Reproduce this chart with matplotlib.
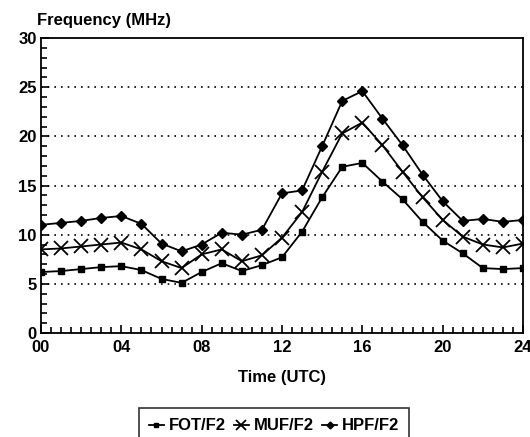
import matplotlib
matplotlib.use("Agg")
import matplotlib.pyplot as plt
from matplotlib.ticker import MultipleLocator

plt.rcParams['font.family'] = ['Liberation Sans', 'DejaVu Sans']

hours = list(range(25))
fot = [6.2, 6.3, 6.5, 6.7, 6.8, 6.4, 5.5, 5.1, 6.2, 7.1, 6.3, 6.9,
       7.7, 10.3, 13.8, 16.9, 17.3, 15.4, 13.6, 11.3, 9.4, 8.1, 6.6, 6.5, 6.6]
muf = [8.5, 8.6, 8.8, 9.0, 9.2, 8.5, 7.3, 6.6, 8.0, 8.5, 7.3, 7.9,
       9.7, 12.3, 16.4, 20.3, 21.4, 19.1, 16.4, 13.8, 11.5, 9.8, 9.0, 8.7, 9.1]
hpf = [11.0, 11.2, 11.4, 11.7, 11.9, 11.1, 9.1, 8.3, 9.0, 10.2, 10.0, 10.5,
       14.2, 14.5, 19.0, 23.6, 24.6, 21.8, 19.1, 16.1, 13.4, 11.4, 11.6, 11.3, 11.5]
xtick_vals = [0, 4, 8, 12, 16, 20, 24]
xtick_labels = ["00", "04", "08", "12", "16", "20", "24"]
ytick_vals = [0, 5, 10, 15, 20, 25, 30]

FS = 12

fig = plt.figure(figsize=(5.30, 4.37), dpi=100)
ax = fig.add_axes([41/530, 1-333/437, (523-41)/530, (333-38)/437])

ax.plot(hours, fot, color='black', lw=1.3, marker='s', ms=5, label='FOT/F2')
ax.plot(hours, muf, color='black', lw=1.3, marker='x', ms=10, mew=1.3, label='MUF/F2')
ax.plot(hours, hpf, color='black', lw=1.3, marker='D', ms=5, label='HPF/F2')

ax.set_xlim(0, 24)
ax.set_ylim(0, 30)
ax.set_xticks(xtick_vals)
ax.set_xticklabels(xtick_labels)
ax.set_yticks(ytick_vals)
ax.xaxis.set_minor_locator(MultipleLocator(0.5))
ax.yaxis.set_minor_locator(MultipleLocator(1))
ax.tick_params(which='both', direction='in', width=1.2, labelsize=FS)
ax.tick_params(which='major', length=6)
ax.tick_params(which='minor', length=4)
ax.tick_params(axis='x', pad=5)
ax.tick_params(axis='y', pad=3)
for lab in ax.get_xticklabels() + ax.get_yticklabels():
    lab.set_fontweight('bold')

for y in [5, 10, 15, 20, 25]:
    ax.axhline(y, color='black', lw=1.2, ls=(0, (1, 3)), zorder=0)

for s in ax.spines.values():
    s.set_linewidth(1.3)

fig.text(37/530, 1-20/437, 'Frequency (MHz)', fontsize=FS, fontweight='bold',
         ha='left', va='center')
ax.set_xlabel('Time (UTC)', fontsize=FS, fontweight='bold', labelpad=11)

leg = fig.legend(loc='upper center', bbox_to_anchor=(0.517, 1-400/437), ncol=3,
                 frameon=True, fancybox=False, edgecolor='black',
                 handlelength=0.9, handletextpad=0.3, columnspacing=0.5,
                 borderpad=0.6, prop={'size': FS, 'weight': 'bold'}, markerscale=0.7)
leg.get_frame().set_linewidth(1.2)

fig.savefig('out.png', dpi=100)
